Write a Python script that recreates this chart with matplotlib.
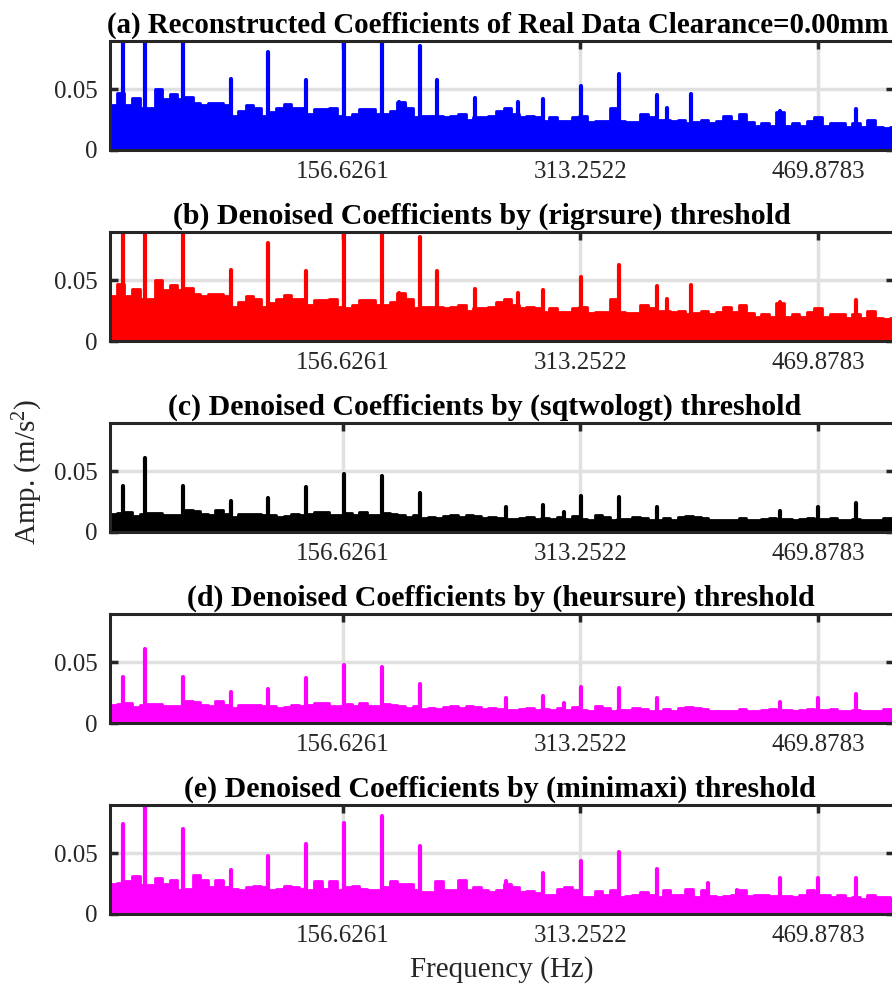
import numpy as np
import matplotlib.pyplot as plt

plt.rcParams['font.family'] = 'Liberation Serif'
plt.rcParams['mathtext.fontset'] = 'custom'
plt.rcParams['mathtext.rm'] = 'Liberation Serif'
plt.rcParams['mathtext.default'] = 'regular'

freq = np.arange(0, 521, 5)

env_ab = np.array([
    0.038, 0.037, 0.047, 0.037, 0.043, 0.035, 0.035, 0.050, 0.042, 0.046,
    0.042, 0.044, 0.039, 0.037, 0.039, 0.039, 0.037, 0.028, 0.0325, 0.037,
    0.035, 0.028, 0.031, 0.035, 0.038, 0.035, 0.035, 0.030, 0.034, 0.034,
    0.035, 0.028, 0.027, 0.030, 0.034, 0.034, 0.030, 0.030, 0.0325, 0.040,
    0.035, 0.027, 0.028, 0.028, 0.028, 0.027, 0.028, 0.030, 0.025, 0.027,
    0.027, 0.028, 0.0325, 0.035, 0.030, 0.027, 0.028, 0.027, 0.024, 0.027,
    0.024, 0.024, 0.027, 0.028, 0.023, 0.024, 0.024, 0.035, 0.024, 0.023,
    0.023, 0.030, 0.027, 0.025, 0.025, 0.024, 0.025, 0.022, 0.023, 0.025,
    0.022, 0.024, 0.028, 0.024, 0.030, 0.023, 0.020, 0.022, 0.020, 0.031,
    0.020, 0.022, 0.020, 0.024, 0.027, 0.020, 0.022, 0.022, 0.019, 0.022,
    0.019, 0.025, 0.019, 0.018, 0.019])

env_cd = np.array([
    0.0137, 0.015, 0.0155, 0.0165, 0.0135, 0.015, 0.016, 0.0155, 0.014, 0.014,
    0.014, 0.0178, 0.017, 0.015, 0.0137, 0.0178, 0.015, 0.012, 0.0145, 0.015,
    0.015, 0.0137, 0.014, 0.012, 0.013, 0.0145, 0.0137, 0.015, 0.0164, 0.0164,
    0.0137, 0.0137, 0.0155, 0.0137, 0.0164, 0.0137, 0.0137, 0.0155, 0.015, 0.0137,
    0.012, 0.0137, 0.0118, 0.012, 0.0118, 0.013, 0.0137, 0.012, 0.0137, 0.013,
    0.0118, 0.012, 0.0118, 0.011, 0.011, 0.0118, 0.012, 0.011, 0.0118, 0.011,
    0.012, 0.011, 0.013, 0.011, 0.010, 0.0137, 0.012, 0.010, 0.011, 0.011,
    0.012, 0.0115, 0.010, 0.0096, 0.0118, 0.010, 0.012, 0.013, 0.012, 0.0118,
    0.010, 0.010, 0.010, 0.010, 0.0118, 0.010, 0.0096, 0.011, 0.0115, 0.011,
    0.011, 0.010, 0.011, 0.0115, 0.011, 0.011, 0.0118, 0.0096, 0.010, 0.011,
    0.010, 0.0096, 0.010, 0.0118, 0.0118])

env_e = np.array([
    0.024, 0.025, 0.026, 0.027, 0.031, 0.024, 0.024, 0.030, 0.025, 0.028,
    0.020, 0.021, 0.032, 0.028, 0.022, 0.028, 0.022, 0.021, 0.020, 0.022,
    0.023, 0.022, 0.020, 0.021, 0.023, 0.022, 0.021, 0.020, 0.027, 0.021,
    0.027, 0.020, 0.022, 0.023, 0.021, 0.020, 0.020, 0.022, 0.027, 0.025,
    0.025, 0.020, 0.018, 0.018, 0.027, 0.020, 0.020, 0.028, 0.020, 0.022,
    0.020, 0.018, 0.020, 0.025, 0.022, 0.018, 0.019, 0.017, 0.016, 0.016,
    0.021, 0.022, 0.020, 0.014, 0.014, 0.019, 0.016, 0.020, 0.014, 0.015,
    0.016, 0.018, 0.016, 0.014, 0.020, 0.016, 0.016, 0.021, 0.014, 0.020,
    0.015, 0.014, 0.015, 0.016, 0.020, 0.015, 0.016, 0.016, 0.015, 0.015,
    0.015, 0.014, 0.016, 0.020, 0.016, 0.016, 0.014, 0.016, 0.013, 0.014,
    0.012, 0.016, 0.014, 0.014, 0.013])

# harmonic peaks (Hz, amplitude)
spk_ab_f = [11.3, 25.9, 50.9, 82.6, 107.4, 132.2, 157.1, 182.1, 193.6, 197.5,
            207.4, 218.4, 243.7, 271.8, 288.7, 313.6, 338.6, 363.5, 370.1,
            386.1, 444.8, 494.9]
spk_ab_a = [0.1, 0.1, 0.1, 0.059, 0.081, 0.0575, 0.1, 0.1, 0.040, 0.037,
            0.086, 0.058, 0.043, 0.040, 0.0425, 0.053, 0.0625, 0.045, 0.035,
            0.046, 0.0325, 0.034]

spk_cd_f = [11.3, 25.9, 50.9, 82.6, 107.4, 132.2, 157.1, 182.1, 207.2, 263.9,
            288.7, 302.4, 313.6, 338.6, 363.7, 444.8, 469.7, 494.9]
spk_cd_a = [0.0377, 0.0615, 0.0377, 0.0252, 0.0279, 0.0369, 0.0479, 0.0465,
            0.032, 0.021, 0.0227, 0.0164, 0.0298, 0.0293, 0.0205, 0.0172,
            0.0205, 0.0238]

spk_e_f = [11.3, 25.9, 50.9, 82.6, 107.4, 132.2, 157.1, 182.1, 207.2, 263.9,
           288.7, 313.6, 338.6, 363.7, 397.4, 416.6, 444.8, 469.7, 494.9]
spk_e_a = [0.074, 0.1, 0.070, 0.036, 0.048, 0.058, 0.075, 0.081, 0.056, 0.027,
           0.034, 0.044, 0.051, 0.037, 0.026, 0.020, 0.030, 0.030, 0.030]

titles = ['(a) Reconstructed Coefficients of Real Data Clearance=0.00mm',
          '(b) Denoised Coefficients by (rigrsure) threshold',
          '(c) Denoised Coefficients by (sqtwologt) threshold',
          '(d) Denoised Coefficients by (heursure) threshold',
          '(e) Denoised Coefficients by (minimaxi) threshold']
colors = ['#0000ff', '#ff0000', '#000000', '#ff00ff', '#ff00ff']
envs = [env_ab, env_ab, env_cd, env_cd, env_e]
spikes = [(spk_ab_f, spk_ab_a), (spk_ab_f, spk_ab_a), (spk_cd_f, spk_cd_a),
          (spk_cd_f, spk_cd_a), (spk_e_f, spk_e_a)]

xticks = [156.6261, 313.2522, 469.8783]
xtick_labels = ['156.6261', '313.2522', '469.8783']
yticks = [0, 0.05]
ytick_labels = ['0', '0.05']

W, H = 892, 991
fig = plt.figure(figsize=(W / 100, H / 100), dpi=100)
tops = [41, 232, 423, 614, 805]
title_cx = [498, 482, 485, 501, 500]   # title centres, pixels
title_fs = [20.8, 21.5, 21.5, 21.5, 21.5]
dark = '#262626'

for i in range(5):
    ax = fig.add_axes([110 / W, 1 - (tops[i] + 109) / H, 784 / W, 109 / H])
    c = colors[i]
    ax.fill_between(freq, 0, envs[i], step='mid', color=c, lw=0)
    ax.step(freq, envs[i], where='mid', color=c, lw=2)
    lc = ax.vlines(spikes[i][0], 0, spikes[i][1], colors=c, lw=3)
    lc.set_capstyle('round')
    ax.set_xlim(3, 520)
    ax.set_ylim(0, 0.09)
    ax.set_xticks(xticks, xtick_labels)
    ax.set_yticks(yticks, ytick_labels)
    ax.grid(True, color='#e0e0e0', lw=2.5)
    ax.set_axisbelow(True)
    for s in ax.spines.values():
        s.set_linewidth(2.2)
        s.set_color(dark)
    ax.tick_params(direction='in', length=6, width=2.5, color=dark,
                   labelcolor=dark, labelsize=18, top=True, right=True)
    ax.tick_params(axis='y', pad=9)
    ax.tick_params(axis='x', pad=8)
    ax.set_title(titles[i], fontsize=title_fs[i], fontweight='bold',
                 x=(title_cx[i] - 110) / 784, pad=6, color='black')

fig.text(28 / W, 1 - 472 / H, 'Amp. (m/s$^2$)', rotation=90, fontsize=21,
         color=dark, ha='center', va='center')
fig.text(502 / W, 1 - 970 / H, 'Frequency (Hz)', fontsize=21, color=dark,
         ha='center', va='center')

fig.savefig('out.png', dpi=100)
